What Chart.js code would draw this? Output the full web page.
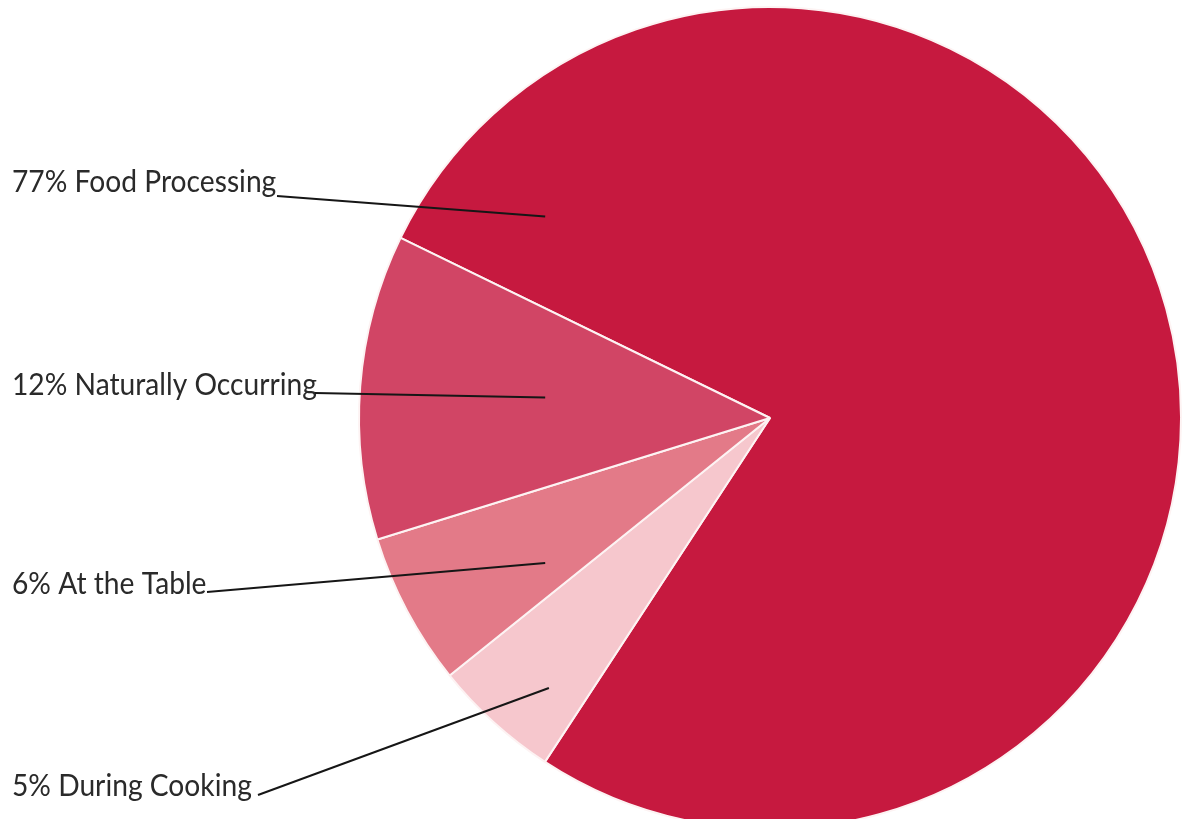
<!DOCTYPE html>
<html>
<head>
<meta charset="utf-8">
<script src="https://cdn.jsdelivr.net/npm/chart.js@4.4.1/dist/chart.umd.min.js"></script>
<style>
  html, body { margin: 0; padding: 0; background: #fff; }
  #wrap { width: 1182px; height: 819px; }
</style>
</head>
<body>
<div id="wrap"><canvas id="saltChart" width="1182" height="819"></canvas></div>
<script>
// sources of sodium (percent)
const categories = ["Food Processing", "During Cooking", "At the Table", "Naturally Occurring"];
const shares = [77, 5, 6, 12];
const sliceColors = ["#c6193f", "#f6c7cd", "#e37a88", "#d14565"];

// label placement: text baseline at left, leader end given in radius units from centre
const labelSpots = [
  { x: 12, y: 192, lineFrom: [277, 196], lineTo: [-0.547, -0.49] },
  { x: 12, y: 796, lineFrom: [258, 795], lineTo: [-0.538, 0.657] },
  { x: 12, y: 594, lineFrom: [207, 592], lineTo: [-0.547, 0.353] },
  { x: 12, y: 395, lineFrom: [315, 393], lineTo: [-0.547, -0.05] }
];

const leaderLabels = {
  id: "leaderLabels",
  afterDatasetsDraw(chart) {
    const ctx = chart.ctx;
    const arcs = chart.getDatasetMeta(0).data;
    if (!arcs.length) return;
    const cx = arcs[0].x, cy = arcs[0].y, r = arcs[0].outerRadius;
    ctx.save();
    ctx.strokeStyle = "#161616";
    ctx.lineWidth = 2;
    categories.forEach((cat, i) => {
      const s = labelSpots[i];
      // text is a little condensed in the original
      ctx.save();
      ctx.translate(s.x, s.y);
      ctx.scale(0.94, 1);
      ctx.font = "30px Lato";
      ctx.fillStyle = "#2a2a2a";
      ctx.textBaseline = "alphabetic";
      ctx.fillText(shares[i] + "% " + cat, 0, 0);
      ctx.restore();
      ctx.beginPath();
      ctx.moveTo(s.lineFrom[0], s.lineFrom[1]);
      ctx.lineTo(cx + s.lineTo[0] * r, cy + s.lineTo[1] * r);
      ctx.stroke();
    });
    ctx.restore();
  }
};

new Chart(document.getElementById("saltChart"), {
  type: "pie",
  data: {
    labels: categories,
    datasets: [{
      data: shares,
      backgroundColor: sliceColors,
      borderColor: "#fdf3f3",
      borderWidth: 2
    }]
  },
  options: {
    responsive: false,
    animation: false,
    rotation: 296,
    radius: 411,
    layout: { padding: { left: 358, top: 17, right: 0, bottom: 0 } },
    plugins: {
      legend: { display: false },
      tooltip: { enabled: false }
    }
  },
  plugins: [leaderLabels]
});
</script>
</body>
</html>
